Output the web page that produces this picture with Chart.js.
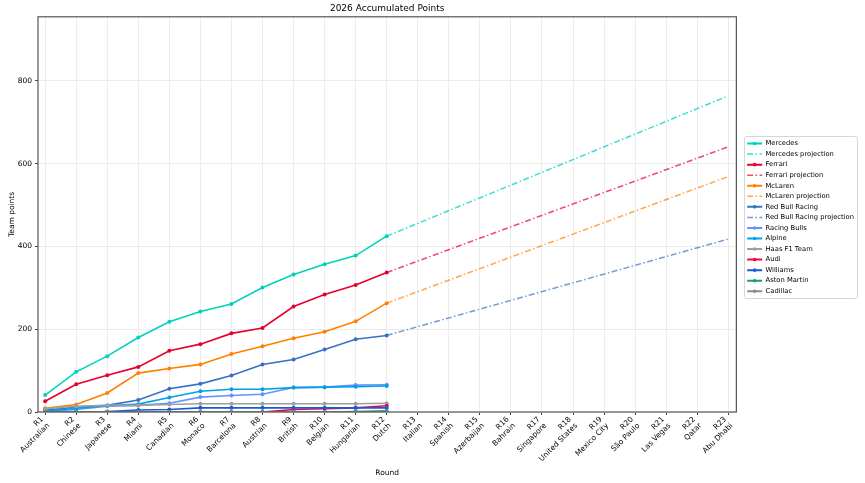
<!DOCTYPE html>
<html>
<head>
<meta charset="utf-8">
<script src="https://cdn.jsdelivr.net/npm/chart.js@4.4.1/dist/chart.umd.min.js"></script>
<style>
    html, body { margin: 0; padding: 0; background: #fff; }
    #wrap { width: 865px; height: 483px; }
</style>
</head>
<body>
<div id="wrap"><canvas id="points-chart" width="865" height="483"></canvas></div>
<script>
// --- Data ---
const roundLabels = ['R1', 'R2', 'R3', 'R4', 'R5', 'R6', 'R7', 'R8', 'R9', 'R10', 'R11', 'R12',
    'R13', 'R14', 'R15', 'R16', 'R17', 'R18', 'R19', 'R20', 'R21', 'R22', 'R23'];
const raceNames = ['Australian', 'Chinese', 'Japanese', 'Miami', 'Canadian', 'Monaco', 'Barcelona',
    'Austrian', 'British', 'Belgian', 'Hungarian', 'Dutch', 'Italian', 'Spanish', 'Azerbaijan',
    'Bahrain', 'Singapore', 'United States', 'Mexico City', 'São Paulo', 'Las Vegas', 'Qatar', 'Abu Dhabi'];
const yTicks = [0, 200, 400, 600, 800];

const mercedes    = [41, 97, 135, 180, 218, 243, 261, 301, 332, 357, 378, 425];
const ferrari     = [26, 67, 89, 109, 148, 164, 190, 203, 255, 284, 307, 337];
const mclaren     = [9, 18, 46, 94, 105, 115, 140, 159, 178, 194, 219, 263];
const redBull     = [4, 12, 16, 29, 56, 68, 88, 115, 127, 151, 176, 185];
const racingBulls = [1, 6, 14, 16, 21, 36, 40, 43, 59, 60, 65, 66];
const alpine      = [2, 9, 15, 19, 35, 50, 55, 55, 59, 60, 61, 63];
const haas        = [8, 14, 16, 16, 18, 20, 20, 20, 20, 20, 20, 21];
const audi        = [0, 0, 0, 0, 0, 0, 0, 0, 6, 8, 10, 15];
const williams    = [0, 0, 1, 5, 6, 10, 10, 10, 10, 10, 10, 10];
const astonMartin = [0, 0, 0, 0, 0, 0, 0, 0, 0, 0, 1, 3];
const cadillac    = [0, 0, 0, 0, 0, 0, 0, 0, 0, 0, 0, 0];

// projections run from the last race done to the final round
const projectionRounds  = ['R12', 'R23'];
const mercedesProj = [425, 764];
const ferrariProj  = [337, 641];
const mclarenProj  = [263, 569];
const redBullProj  = [185, 418];
// ------------

const toPoints = (vals) => vals.map((v, i) => ({ x: i, y: v }));
const toProjPoints = (vals) => vals.map((v, i) => ({ x: roundLabels.indexOf(projectionRounds[i]), y: v }));

function team(label, vals, color) {
    return {
        label: label,
        data: toPoints(vals),
        borderColor: color,
        backgroundColor: color,
        borderWidth: 1.6,
        pointRadius: 2,
        pointBorderWidth: 0,
        pointBackgroundColor: color,
        isProjection: false
    };
}

function projection(label, vals, color) {
    return {
        label: label,
        data: toProjPoints(vals),
        borderColor: color,
        backgroundColor: color,
        borderWidth: 1.5,
        borderDash: [6, 2.4, 1.5, 2.4],
        pointRadius: 0,
        isProjection: true
    };
}

const datasets = [
    team('Mercedes', mercedes, '#00d2be'),
    projection('Mercedes projection', mercedesProj, 'rgba(0, 210, 190, 0.75)'),
    team('Ferrari', ferrari, '#e8002d'),
    projection('Ferrari projection', ferrariProj, 'rgba(232, 0, 45, 0.7)'),
    team('McLaren', mclaren, '#ff8000'),
    projection('McLaren projection', mclarenProj, 'rgba(255, 128, 0, 0.7)'),
    team('Red Bull Racing', redBull, '#3671c6'),
    projection('Red Bull Racing projection', redBullProj, 'rgba(54, 113, 198, 0.7)'),
    team('Racing Bulls', racingBulls, '#6692ff'),
    team('Alpine', alpine, '#00a1e8'),
    team('Haas F1 Team', haas, '#9c9fa2'),
    team('Audi', audi, '#f50537'),
    team('Williams', williams, '#1a5ad8'),
    team('Aston Martin', astonMartin, '#229971'),
    team('Cadillac', cadillac, '#8c8c8c')
];
// later teams sit on top, like the plotting order
datasets.forEach((d, i) => { d.order = -i; });

const LEGEND_SHIFT_X = 7;
const LEGEND_SHIFT_Y = 3;

const framePlugin = {
    id: 'frame',
    afterUpdate(chart) {
        // nudge the legend away from the plot a bit
        const lg = chart.legend;
        if (!lg) return;
        lg.left += LEGEND_SHIFT_X;
        lg.right += LEGEND_SHIFT_X;
        lg.top += LEGEND_SHIFT_Y;
        lg.bottom += LEGEND_SHIFT_Y;
        (lg.legendHitBoxes || []).forEach(h => { h.left += LEGEND_SHIFT_X; h.top += LEGEND_SHIFT_Y; });
    },
    afterDatasetsDraw(chart) {
        const a = chart.chartArea;
        const ctx = chart.ctx;
        ctx.save();
        ctx.strokeStyle = '#555';
        ctx.lineWidth = 1.2;
        ctx.strokeRect(a.left, a.top, a.right - a.left, a.bottom - a.top);
        ctx.restore();
    }
};

const legendBoxPlugin = {
    id: 'legendBox',
    afterDraw(chart) {
        const lg = chart.legend;
        if (!lg || !lg.legendHitBoxes || !lg.legendHitBoxes.length) return;
        const boxes = lg.legendHitBoxes;
        const ctx = chart.ctx;
        const left = Math.min(...boxes.map(h => h.left)) - 3;
        const right = Math.max(...boxes.map(h => h.left + h.width)) + 3;
        const top = Math.min(...boxes.map(h => h.top)) - 4;
        const bottom = Math.max(...boxes.map(h => h.top + h.height)) + 4;
        ctx.save();
        ctx.strokeStyle = '#d6d6d6';
        ctx.lineWidth = 1;
        ctx.beginPath();
        ctx.roundRect(Math.round(left) + 0.5, Math.round(top) + 0.5, Math.round(right - left), Math.round(bottom - top), 2);
        ctx.stroke();
        // small markers on the solid entries
        lg.legendItems.forEach((item, i) => {
            const ds = chart.data.datasets[item.datasetIndex];
            if (ds.isProjection) return;
            const hb = boxes[i];
            ctx.fillStyle = ds.borderColor;
            ctx.beginPath();
            ctx.arc(hb.left + 7.5, hb.top + hb.height / 2, 1.8, 0, Math.PI * 2);
            ctx.fill();
        });
        ctx.restore();
    }
};

const ctx = document.getElementById('points-chart').getContext('2d');
new Chart(ctx, {
    type: 'line',
    data: { datasets: datasets },
    options: {
        responsive: false,
        animation: false,
        devicePixelRatio: 1,
        layout: { padding: { left: 0, right: 8, top: 0, bottom: 0 } },
        elements: { line: { tension: 0 } },
        plugins: {
            title: {
                display: true,
                text: '2026 Accumulated Points',
                color: '#000',
                fullSize: false,
                font: { family: 'DejaVu Sans', size: 9, weight: 'normal' },
                padding: { top: 3, bottom: 3 }
            },
            legend: {
                position: 'right',
                fullSize: false,
                labels: {
                    usePointStyle: true,
                    pointStyle: 'line',
                    pointStyleWidth: 15,
                    padding: 3.8,
                    color: '#000',
                    font: { family: 'DejaVu Sans', size: 6.75 },
                    sort: (a, b) => a.datasetIndex - b.datasetIndex,
                    generateLabels: (chart) => {
                        const items = Chart.defaults.plugins.legend.labels.generateLabels(chart);
                        items.forEach(item => {
                            const ds = chart.data.datasets[item.datasetIndex];
                            item.pointStyle = 'line';
                            item.strokeStyle = ds.borderColor;
                            item.lineWidth = ds.isProjection ? 1.5 : 2;
                            item.lineDash = ds.borderDash || [];
                        });
                        return items;
                    }
                }
            },
            tooltip: { enabled: false }
        },
        scales: {
            x: {
                type: 'linear',
                min: -0.23,
                max: 22.26,
                afterBuildTicks: (axis) => { axis.ticks = roundLabels.map((_, i) => ({ value: i })); },
                afterFit: (scale) => { scale.height = 71; },
                grid: { color: '#ececec', tickLength: 3, tickColor: '#444' },
                border: { display: false },
                ticks: {
                    autoSkip: false,
                    minRotation: 45,
                    maxRotation: 45,
                    padding: 0,
                    labelOffset: -3,
                    color: '#000',
                    font: { family: 'DejaVu Sans', size: 7.5 },
                    callback: (v) => [roundLabels[v], raceNames[v]]
                },
                title: {
                    display: true,
                    text: 'Round',
                    color: '#000',
                    font: { family: 'DejaVu Sans', size: 7.5 },
                    padding: { top: 4, bottom: 5 }
                }
            },
            y: {
                min: 0,
                max: 955,
                afterBuildTicks: (axis) => { axis.ticks = yTicks.map(v => ({ value: v })); },
                afterFit: (scale) => { scale.width = 38; },
                grid: { color: '#ececec', tickLength: 3, tickColor: '#444' },
                border: { display: false },
                ticks: {
                    padding: 3,
                    color: '#000',
                    font: { family: 'DejaVu Sans', size: 7.5 }
                },
                title: {
                    display: true,
                    text: 'Team points',
                    color: '#000',
                    font: { family: 'DejaVu Sans', size: 7.5 },
                    padding: { top: 8, bottom: 0 }
                }
            }
        }
    },
    plugins: [framePlugin, legendBoxPlugin]
});
</script>
</body>
</html>
